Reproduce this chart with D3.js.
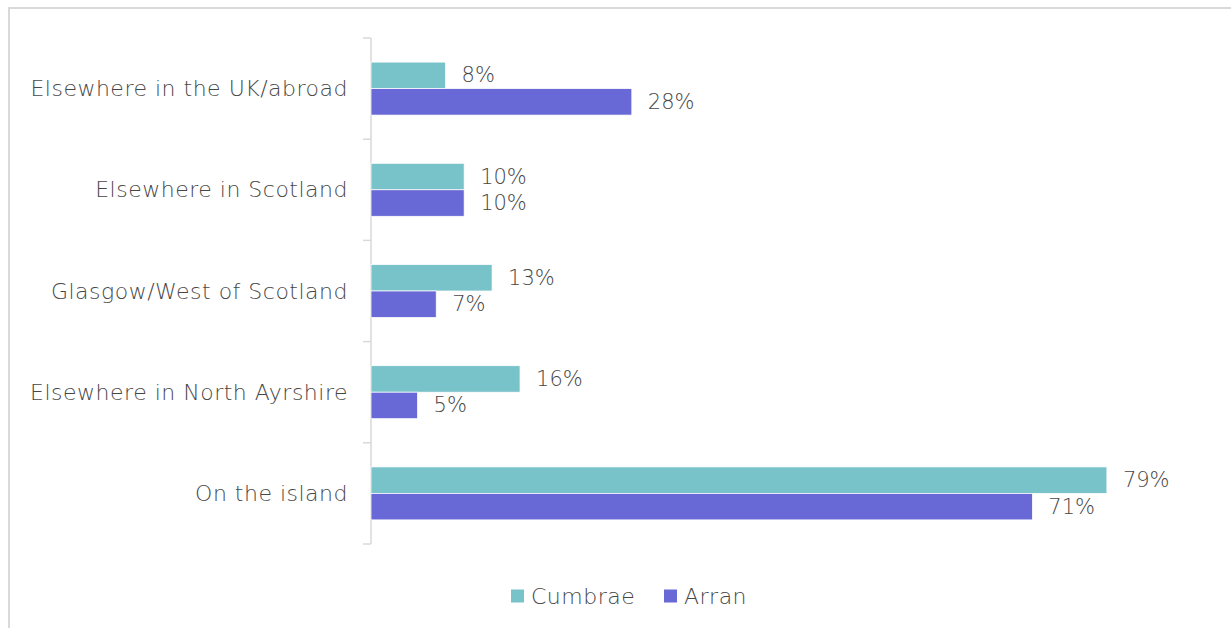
<!DOCTYPE html>
<html>
<head>
<meta charset="utf-8">
<script src="https://cdn.jsdelivr.net/npm/d3@7"></script>
<style>
  html, body { margin: 0; padding: 0; background: #fff; }
  svg { display: block; }
  text { font-family: "DejaVu Sans", sans-serif; fill: #474747; font-weight: 200; }
</style>
</head>
<body>
<div id="chart"></div>
<script>
// Where respondents live, by island (share of respondents)
const categories = [
  "Elsewhere in the UK/abroad",
  "Elsewhere in Scotland",
  "Glasgow/West of Scotland",
  "Elsewhere in North Ayrshire",
  "On the island"
];
const seriesNames = ["Cumbrae", "Arran"];
const cumbrae = [8, 10, 13, 16, 79];
const arran = [28, 10, 7, 5, 71];
const seriesColors = ["#78c3ca", "#6868d6"];

const width = 1231, height = 628;
const svg = d3.select("#chart").append("svg")
  .attr("width", width).attr("height", height);

svg.append("rect").attr("width", width).attr("height", height).attr("fill", "#fff");

// outer frame (runs off the right and bottom edges)
svg.append("rect")
  .attr("x", 9).attr("y", 8)
  .attr("width", width + 20).attr("height", height + 20)
  .attr("fill", "none").attr("stroke", "#d9d9d9").attr("stroke-width", 2);

const plotLeft = 371, plotTop = 38, plotBottom = 544;

const y = d3.scaleBand().domain(categories).range([plotTop, plotBottom]).padding(0);
const y1 = d3.scaleBand().domain(seriesNames).range([0, y.bandwidth()])
  .paddingInner(0).paddingOuter(0.91);
const x = d3.scaleLinear().domain([0, 100]).range([plotLeft, plotLeft + 931.5]);

const rows = categories.map((c, i) => ({ cat: c, values: [cumbrae[i], arran[i]] }));

// category axis line and boundary ticks
const axis = svg.append("g").attr("stroke", "#d9d9d9").attr("stroke-width", 1.5);
axis.append("line")
  .attr("x1", plotLeft).attr("x2", plotLeft)
  .attr("y1", plotTop).attr("y2", plotBottom);
const boundaries = categories.map(c => y(c)).concat([plotBottom]);
axis.selectAll("line.tick").data(boundaries).join("line")
  .attr("class", "tick")
  .attr("x1", plotLeft - 8).attr("x2", plotLeft)
  .attr("y1", d => d).attr("y2", d => d);

// category labels
svg.append("g").selectAll("text").data(categories).join("text")
  .attr("x", 348)
  .attr("y", d => y(d) + y.bandwidth() / 2)
  .attr("text-anchor", "end")
  .attr("dominant-baseline", "central")
  .attr("font-size", 22)
  .attr("letter-spacing", 0.5)
  .text(d => d);

// bars
const groups = svg.append("g").selectAll("g").data(rows).join("g")
  .attr("transform", d => `translate(0,${y(d.cat)})`);

groups.selectAll("rect").data(d => d.values.map((v, j) => ({ v, s: seriesNames[j], j })))
  .join("rect")
  .attr("x", x(0))
  .attr("y", d => y1(d.s))
  .attr("width", d => x(d.v) - x(0))
  .attr("height", y1.bandwidth())
  .attr("fill", d => seriesColors[d.j])
  .attr("stroke", "#fff").attr("stroke-width", 0.75);

groups.selectAll("text").data(d => d.values.map((v, j) => ({ v, s: seriesNames[j] })))
  .join("text")
  .attr("x", d => x(d.v) + 16)
  .attr("y", d => y1(d.s) + y1.bandwidth() / 2)
  .attr("dominant-baseline", "central")
  .attr("font-size", 21)
  .text(d => d.v + "%");

// legend
const legendItems = [
  { name: seriesNames[0], color: seriesColors[0], x: 511 },
  { name: seriesNames[1], color: seriesColors[1], x: 664 }
];
const legend = svg.append("g").selectAll("g").data(legendItems).join("g")
  .attr("transform", d => `translate(${d.x},596)`);
legend.append("rect")
  .attr("x", 0).attr("y", -6.5).attr("width", 13).attr("height", 13)
  .attr("fill", d => d.color);
legend.append("text")
  .attr("x", 20).attr("y", 0)
  .attr("dominant-baseline", "central")
  .attr("font-size", 22)
  .attr("letter-spacing", 0.5)
  .text(d => d.name);
</script>
</body>
</html>
